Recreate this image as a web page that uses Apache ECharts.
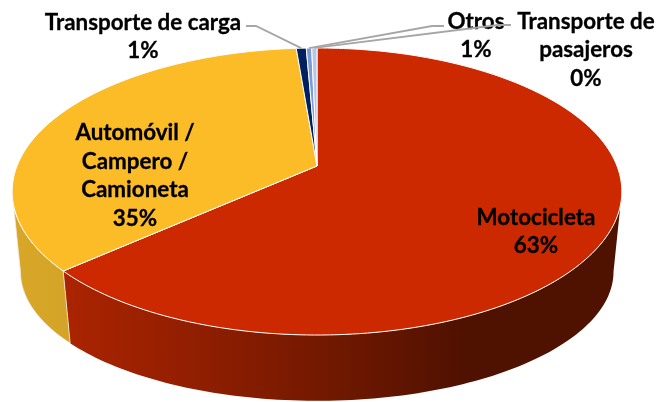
<!DOCTYPE html>
<html>
<head>
<meta charset="utf-8">
<style>
  html, body { margin: 0; padding: 0; background: #fff; }
  #app { width: 656px; height: 402px; }
</style>
<script src="https://cdn.jsdelivr.net/npm/echarts@6/dist/echarts.min.js"></script>
</head>
<body>
<div id="app"></div>
<script>
const categories = ['Motocicleta', 'Automóvil /\nCampero /\nCamioneta', 'Transporte de carga', 'Otros', 'Transporte de\npasajeros']
const values = [63.39, 35.3, 0.63, 0.34, 0.33]
const percentLabels = ['63%', '35%', '1%', '1%', '0%']

const topColors = ['#cc2900', '#fbbc28', '#002060', '#7c9bd6', '#b4c7e7']
const labelCenters = [[536, 232], [135, 176], [143, 37], [476, 36], [586, 50]]
const leaderElbows = [null, null, [[246, 26], [256, 26]], [[444, 26], [432, 26]], [[511, 25], [498, 25]]]

const total = values.reduce((a, b) => a + b, 0)
const starts = values.map((v, i) => values.slice(0, i).reduce((a, b) => a + b, 0))

// the disc is drawn in perspective, so the apex of the slices sits above the middle of the ellipse
const CX = 317, K = 0.1777
const TOP_RIM = { cy: 166, a: 300, b: 139 }
const LOW_RIM = { cy: 248.8, a: 291.8, b: 125 }
// only the front of the disc shows a wall, between the left and right extremes of the ellipse
const FRONT_FROM = (Math.PI - Math.acos(K)) / (Math.PI * 2) * total
const FRONT_TO = total - FRONT_FROM

function rim(pct, r) {
  const t = pct / total * Math.PI * 2
  const X = Math.sin(t), Y = -Math.cos(t)
  const d = 1 - K * Y
  return [CX + r.a * X / d, r.cy + r.b * Y / d]
}
function arc(from, to, r) {
  const pts = []
  const n = Math.max(2, Math.ceil((to - from) * 3))
  for (let i = 0; i <= n; i++) pts.push(rim(from + (to - from) * i / n, r))
  return pts
}

const wallFills = [
  new echarts.graphic.LinearGradient(0, 0, 1, 0, [
    { offset: 0, color: '#ab2400' },
    { offset: 0.25, color: '#8f1e00' },
    { offset: 0.5, color: '#6e1800' },
    { offset: 0.72, color: '#4f1100' },
    { offset: 1, color: '#4f1100' }
  ]),
  new echarts.graphic.LinearGradient(0, 0, 1, 0, [
    { offset: 0, color: '#d9a727' },
    { offset: 1, color: '#d3a428' }
  ]),
  '#001640', '#5f77a5', '#8a99b3'
]

const echart = echarts.init(document.getElementById('app'), null, { renderer: 'canvas' })

echart.setOption({
  animation: false,
  backgroundColor: '#fff',
  series: [
    {
      type: 'custom',
      coordinateSystem: 'none',
      silent: true,
      z: 1,
      data: values,
      renderItem(params) {
        const i = params.dataIndex
        const from = Math.max(starts[i], FRONT_FROM)
        const to = Math.min(starts[i] + values[i], FRONT_TO)
        if (to <= from) return null
        return {
          type: 'polygon',
          shape: { points: arc(from, to, TOP_RIM).concat(arc(from, to, LOW_RIM).reverse()) },
          style: { fill: wallFills[i], stroke: i === 0 ? null : '#f4e9e2', lineWidth: 0.8 }
        }
      }
    },
    {
      type: 'custom',
      coordinateSystem: 'none',
      silent: true,
      z: 2,
      data: values,
      renderItem(params) {
        const i = params.dataIndex
        const pts = [[CX, TOP_RIM.cy]].concat(arc(starts[i], starts[i] + values[i], TOP_RIM))
        return {
          type: 'polygon',
          shape: { points: pts },
          style: { fill: topColors[i], stroke: '#fff', lineWidth: 1, lineJoin: 'round' }
        }
      }
    },
    {
      type: 'custom',
      coordinateSystem: 'none',
      silent: true,
      z: 3,
      data: values,
      renderItem(params) {
        const i = params.dataIndex
        const children = []
        if (leaderElbows[i]) {
          children.push({
            type: 'polyline',
            shape: { points: leaderElbows[i].concat([rim(starts[i] + values[i] / 2, TOP_RIM)]) },
            style: { fill: null, stroke: '#a6a6a6', lineWidth: 1.8 }
          })
        }
        children.push({
          type: 'text',
          x: labelCenters[i][0],
          y: labelCenters[i][1],
          style: {
            text: categories[i] + '\n' + percentLabels[i],
            fill: '#000',
            stroke: '#000',
            lineWidth: 0.3,
            font: 'bold 22.4px Lato',
            lineHeight: 28.5,
            align: 'center',
            verticalAlign: 'middle'
          }
        })
        return { type: 'group', children }
      }
    }
  ]
})
</script>
</body>
</html>
